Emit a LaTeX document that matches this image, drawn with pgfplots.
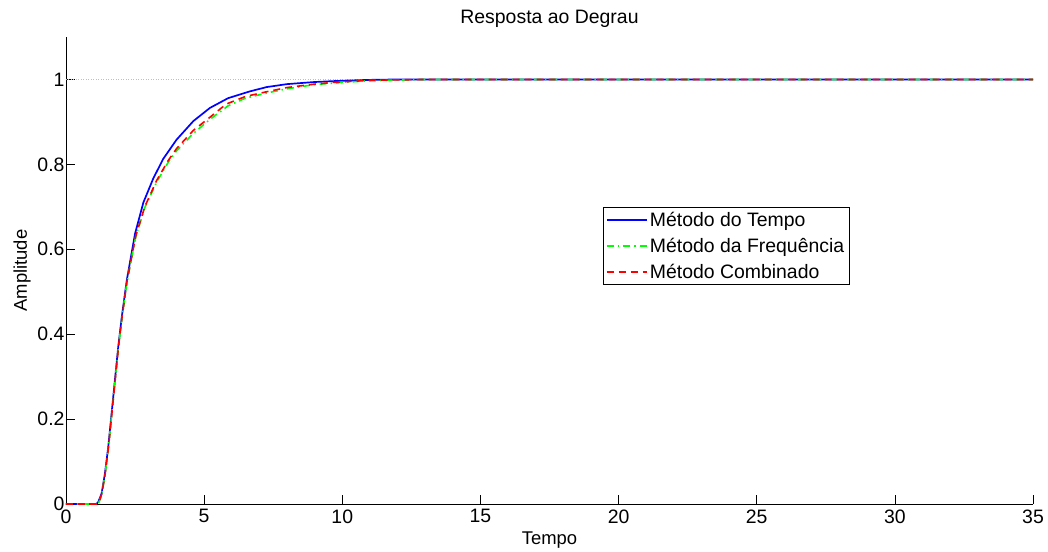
\documentclass[border=0pt]{standalone}
\usepackage{fontspec}
\setmainfont{Liberation Sans}
\usepackage{pgfplots}
\pgfplotsset{compat=1.18}

\begin{document}
\begin{tikzpicture}
\begin{axis}[
    width=967bp, height=467bp, scale only axis,
    xmin=0, xmax=35, ymin=0, ymax=1.1,
    xtick={0,5,...,35}, ytick={0,0.2,0.4,0.6,0.8,1},
    axis lines*=left, axis line style={-, black, line width=0.8pt},
    tick align=inside, major tick length=9bp,
    tick style={black, line width=0.6pt},
    /pgf/number format/assume math mode=true,
    ticklabel style={font=\fontsize{19.5}{23}\selectfont},
    yticklabel style={xshift=2bp},
    xticklabel style={yshift=-2bp},
    title={Resposta ao Degrau},
    title style={font=\fontsize{19.5}{23}\selectfont, yshift=0bp},
    xlabel={Tempo}, ylabel={Amplitude},
    label style={font=\fontsize{18.5}{22}\selectfont},
    xlabel style={yshift=-2bp},
    ylabel style={yshift=0bp},
    legend style={at={(0.555,0.636)}, anchor=north west, draw=black,
        font=\fontsize{19.5}{23}\selectfont, row sep=6bp, inner sep=3bp},
    legend cell align=left,
    legend image code/.code={\draw[#1, line width=2bp] (0bp,0bp) -- (40bp,0bp);},
]
\addplot[gray!50, dotted, line width=0.5pt, forget plot] coordinates {(0,1) (35,1)};

\addplot[blue, line width=1.7bp] coordinates {
(0,0)(1.1,0)(1.17,0.005)(1.29,0.025)(1.41,0.072)(1.53,0.135)(1.65,0.213)
(1.77,0.292)(1.89,0.37)(2.02,0.441)(2.2,0.527)(2.5,0.637)(2.8,0.71)
(3.16,0.767)(3.52,0.813)(4.0,0.858)(4.61,0.902)(5.21,0.933)(5.87,0.956)
(6.66,0.972)(7.26,0.982)(8,0.989)(9,0.994)(10,0.997)(11,0.999)(12,1)(35,1)};
\addlegendentry{Método do Tempo}

\addplot[color=green, line width=1.6bp, dash pattern=on 7bp off 4bp on 1.5bp off 4bp] coordinates {
(0,0)(1.14,0)(1.2,0.005)(1.3,0.025)(1.42,0.072)(1.54,0.135)(1.66,0.213)
(1.78,0.292)(1.9,0.37)(2.03,0.441)(2.21,0.524)(2.52,0.628)(2.85,0.698)
(3.28,0.758)(3.70,0.805)(4.0,0.832)(4.61,0.873)(5.21,0.906)(5.87,0.938)
(6.5,0.956)(7.26,0.968)(8,0.978)(9,0.988)(10,0.993)(11,0.997)(13,1)(35,1)};
\addlegendentry{Método da Frequência}

\addplot[color=red, line width=1.6bp, dash pattern=on 7bp off 5bp] coordinates {
(0,0)(1.14,0)(1.2,0.005)(1.3,0.025)(1.42,0.072)(1.54,0.135)(1.66,0.213)
(1.78,0.292)(1.9,0.37)(2.03,0.441)(2.21,0.525)(2.52,0.63)(2.85,0.70)
(3.28,0.762)(3.70,0.809)(4.0,0.837)(4.61,0.88)(5.21,0.911)(5.8,0.942)
(6.5,0.96)(7.26,0.971)(8,0.981)(9,0.989)(9.67,0.993)(11,0.998)(13,1)(35,1)};
\addlegendentry{Método Combinado}
\end{axis}
\path (current axis.south west) ++(-66bp,-48bp) rectangle ++(1048bp,552bp);
\end{tikzpicture}
\end{document}
